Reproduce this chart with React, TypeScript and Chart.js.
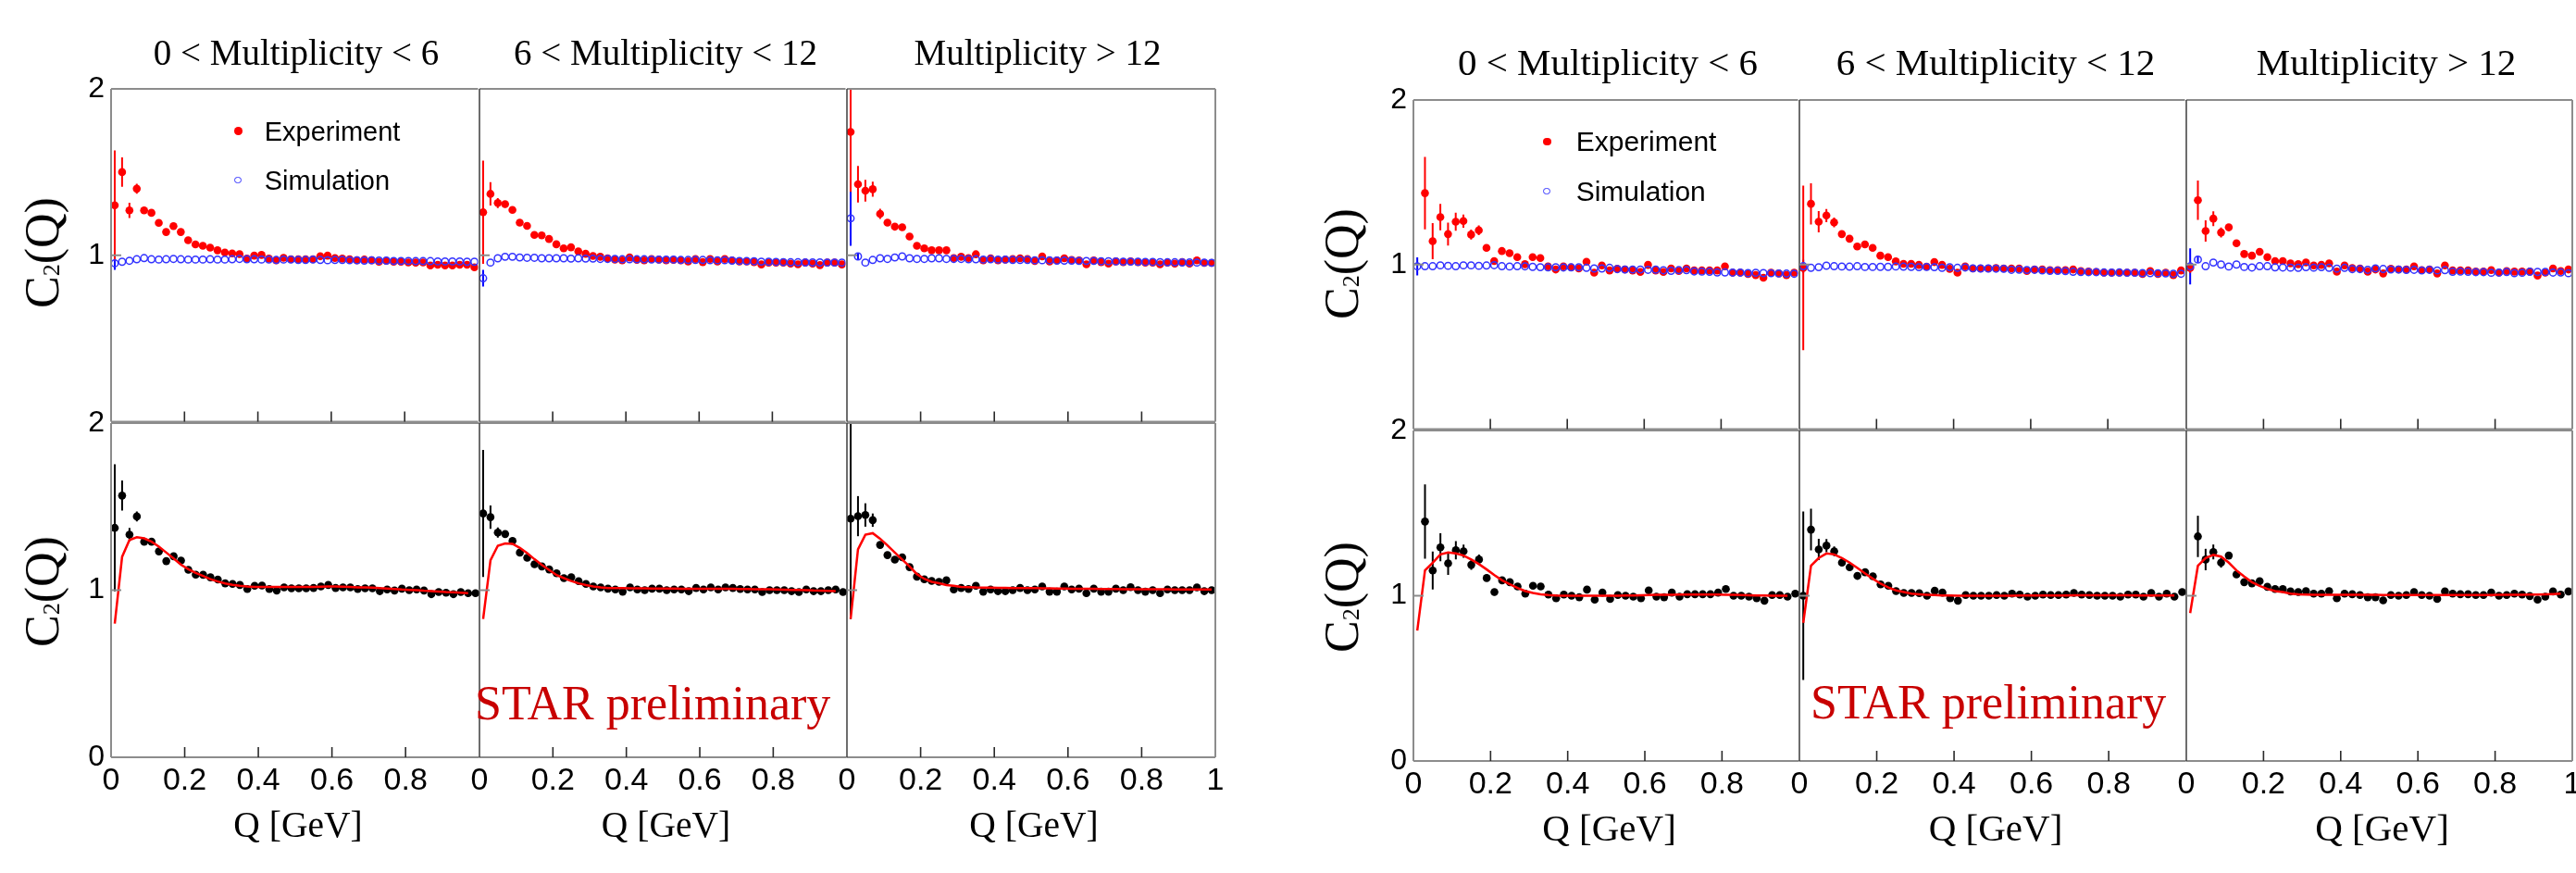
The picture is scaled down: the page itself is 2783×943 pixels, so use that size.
import React, { useEffect, useRef } from "react";
import { Chart, registerables } from "chart.js";

Chart.register(...registerables);

// ---------------- data ----------------
const Q_BINS = [
  0.01, 0.03, 0.05, 0.07, 0.09, 0.11, 0.13, 0.15, 0.17, 0.19,
  0.21, 0.23, 0.25, 0.27, 0.29, 0.31, 0.33, 0.35, 0.37, 0.39,
  0.41, 0.43, 0.45, 0.47, 0.49, 0.51, 0.53, 0.55, 0.57, 0.59,
  0.61, 0.63, 0.65, 0.67, 0.69, 0.71, 0.73, 0.75, 0.77, 0.79,
  0.81, 0.83, 0.85, 0.87, 0.89, 0.91, 0.93, 0.95, 0.97, 0.99,
];

const X_TICKS = [0, 0.2, 0.4, 0.6, 0.8, 1];
const X_TICK_LABELS = ["0", "0.2", "0.4", "0.6", "0.8", "1"];
const Y_TICKS = [0, 1, 2];
const Y_TICK_LABELS = ["0", "1", "2"];
const PANEL_TITLES = ["0 < Multiplicity < 6", "6 < Multiplicity < 12", "Multiplicity > 12"];
const LEGEND_LABELS = ["Experiment", "Simulation"];

// ----- left figure, upper row (Experiment / Simulation) -----
const L1_EXP = [1.30, 1.50, 1.27, 1.40, 1.27, 1.255, 1.195, 1.14, 1.175, 1.14, 1.09, 1.065, 1.057, 1.046, 1.03, 1.017, 1.011, 1.007, 0.98, 0.998, 1.002, 0.98, 0.97, 0.985, 0.976, 0.976, 0.976, 0.976, 0.994, 0.998, 0.983, 0.98, 0.976, 0.97, 0.974, 0.97, 0.961, 0.967, 0.961, 0.961, 0.957, 0.956, 0.957, 0.939, 0.943, 0.939, 0.939, 0.943, 0.943, 0.928];
const L1_EXP_ERR = [0.33, 0.088, 0.046, 0.03, 0.02, 0.018];
const L1_SIM = [0.952, 0.961, 0.967, 0.976, 0.983, 0.976, 0.974, 0.976, 0.978, 0.976, 0.974, 0.974, 0.974, 0.976, 0.974, 0.974, 0.976, 0.978, 0.976, 0.976, 0.974, 0.974, 0.972, 0.974, 0.974, 0.972, 0.972, 0.974, 0.972, 0.970, 0.972, 0.972, 0.970, 0.970, 0.968, 0.970, 0.968, 0.968, 0.966, 0.966, 0.966, 0.965, 0.965, 0.965, 0.963, 0.963, 0.963, 0.963, 0.961, 0.961];
const L1_SIM_ERR = [0.04];

const L2_EXP = [1.259, 1.369, 1.314, 1.307, 1.273, 1.196, 1.177, 1.122, 1.120, 1.098, 1.066, 1.042, 1.048, 1.024, 1.009, 0.996, 0.991, 0.982, 0.974, 0.969, 0.987, 0.972, 0.969, 0.978, 0.974, 0.969, 0.972, 0.969, 0.963, 0.978, 0.959, 0.978, 0.963, 0.978, 0.969, 0.963, 0.963, 0.959, 0.945, 0.956, 0.956, 0.956, 0.950, 0.946, 0.956, 0.950, 0.941, 0.956, 0.956, 0.945];
const L2_EXP_ERR = [0.31, 0.07, 0.03, 0.02];
const L2_SIM = [0.862, 0.956, 0.982, 0.991, 0.991, 0.987, 0.985, 0.985, 0.982, 0.982, 0.982, 0.982, 0.980, 0.982, 0.980, 0.980, 0.978, 0.978, 0.978, 0.976, 0.976, 0.976, 0.976, 0.974, 0.974, 0.974, 0.974, 0.972, 0.972, 0.972, 0.972, 0.970, 0.970, 0.970, 0.968, 0.966, 0.965, 0.964, 0.962, 0.961, 0.960, 0.959, 0.958, 0.958, 0.957, 0.957, 0.957, 0.956, 0.956, 0.956];
const L2_SIM_ERR = [0.05];

const L3_EXP = [1.741, 1.427, 1.388, 1.397, 1.249, 1.196, 1.172, 1.168, 1.113, 1.057, 1.042, 1.030, 1.030, 1.030, 0.983, 0.991, 0.983, 1.006, 0.969, 0.982, 0.969, 0.974, 0.978, 0.982, 0.978, 0.965, 0.993, 0.963, 0.969, 0.982, 0.972, 0.969, 0.946, 0.969, 0.959, 0.950, 0.963, 0.959, 0.963, 0.959, 0.956, 0.956, 0.946, 0.956, 0.950, 0.959, 0.950, 0.969, 0.954, 0.954];
const L3_EXP_ERR = [0.36, 0.11, 0.065, 0.045, 0.03, 0.02];
const L3_SIM = [1.222, 0.993, 0.956, 0.972, 0.982, 0.978, 0.987, 0.993, 0.982, 0.978, 0.978, 0.982, 0.982, 0.978, 0.978, 0.978, 0.976, 0.976, 0.974, 0.976, 0.974, 0.974, 0.972, 0.972, 0.972, 0.970, 0.970, 0.970, 0.968, 0.968, 0.968, 0.966, 0.966, 0.966, 0.964, 0.964, 0.963, 0.962, 0.962, 0.961, 0.960, 0.960, 0.959, 0.958, 0.958, 0.957, 0.957, 0.956, 0.956, 0.955];
const L3_SIM_ERR = [0.165, 0.02];

// ----- left figure, lower row (ratio + fit) -----
const L1_RATIO = [1.373, 1.566, 1.332, 1.441, 1.29, 1.29, 1.232, 1.174, 1.203, 1.177, 1.122, 1.093, 1.092, 1.077, 1.064, 1.041, 1.037, 1.031, 1.007, 1.026, 1.028, 1.007, 0.998, 1.017, 1.011, 1.011, 1.011, 1.013, 1.022, 1.031, 1.013, 1.017, 1.017, 1.007, 1.011, 1.011, 0.994, 1.004, 0.998, 1.009, 1.0, 1.004, 0.998, 0.976, 0.989, 0.985, 0.976, 0.989, 0.982, 0.982];
const L1_RATIO_ERR = [0.38, 0.09, 0.04, 0.03, 0.02];
const L1_FIT = [0.80, 1.20, 1.30, 1.317, 1.31, 1.29, 1.26, 1.225, 1.19, 1.152, 1.125, 1.103, 1.085, 1.066, 1.052, 1.04, 1.032, 1.026, 1.022, 1.02, 1.02, 1.02, 1.02, 1.02, 1.02, 1.02, 1.02, 1.02, 1.021, 1.022, 1.022, 1.021, 1.019, 1.017, 1.016, 1.015, 1.012, 1.01, 1.007, 1.004, 1.002, 1.0, 0.997, 0.995, 0.992, 0.989, 0.987, 0.985, 0.982];

const L2_RATIO = [1.459, 1.437, 1.345, 1.336, 1.295, 1.225, 1.194, 1.155, 1.142, 1.124, 1.101, 1.072, 1.077, 1.054, 1.037, 1.022, 1.017, 1.009, 1.004, 0.991, 1.017, 1.004, 1.0, 1.009, 1.009, 1.0, 1.004, 1.004, 0.994, 1.013, 1.004, 1.017, 1.004, 1.017, 1.013, 1.007, 1.004, 1.004, 0.989, 1.0, 1.0, 1.0, 0.994, 0.989, 1.004, 0.994, 0.994, 1.0, 1.004, 0.989];
const L2_RATIO_ERR = [0.38, 0.07, 0.03, 0.02];
const L2_FIT = [0.828, 1.179, 1.266, 1.28, 1.277, 1.253, 1.221, 1.185, 1.151, 1.12, 1.09, 1.072, 1.055, 1.041, 1.03, 1.022, 1.017, 1.013, 1.012, 1.012, 1.011, 1.011, 1.011, 1.010, 1.010, 1.010, 1.010, 1.009, 1.009, 1.009, 1.009, 1.008, 1.008, 1.008, 1.008, 1.007, 1.007, 1.006, 1.006, 1.005, 1.004, 1.003, 1.002, 1.001, 1.0, 0.998, 0.997, 0.996, 0.995];

const L3_RATIO = [1.428, 1.443, 1.45, 1.419, 1.271, 1.21, 1.183, 1.197, 1.138, 1.081, 1.065, 1.055, 1.05, 1.059, 1.004, 1.013, 1.007, 1.026, 0.991, 1.004, 0.994, 0.994, 1.0, 1.013, 1.0, 1.004, 1.022, 0.991, 0.991, 1.022, 1.004, 1.009, 0.982, 1.009, 0.991, 0.991, 1.009, 1.0, 1.018, 1.0, 0.991, 1.0, 0.982, 1.004, 1.0, 1.0, 1.0, 1.017, 0.994, 1.0];
const L3_RATIO_ERR = [0.6, 0.12, 0.07, 0.04, 0.02];
const L3_FIT = [0.828, 1.244, 1.332, 1.341, 1.308, 1.268, 1.225, 1.183, 1.142, 1.096, 1.068, 1.05, 1.041, 1.031, 1.026, 1.02, 1.018, 1.016, 1.015, 1.015, 1.014, 1.014, 1.013, 1.013, 1.012, 1.012, 1.011, 1.011, 1.010, 1.010, 1.009, 1.009, 1.008, 1.008, 1.007, 1.007, 1.007, 1.006, 1.006, 1.006, 1.005, 1.005, 1.005, 1.005, 1.004, 1.004, 1.004, 1.004, 1.004, 1.004];

// ----- right figure, upper row -----
const R1_EXP = [null, 1.434, 1.142, 1.288, 1.185, 1.260, 1.264, 1.182, 1.208, 1.101, 1.021, 1.082, 1.069, 1.045, 1.002, 1.045, 1.039, 0.989, 0.970, 0.989, 0.983, 0.976, 1.017, 0.951, 0.994, 0.964, 0.974, 0.970, 0.964, 0.955, 0.998, 0.964, 0.955, 0.976, 0.961, 0.976, 0.964, 0.964, 0.964, 0.964, 0.989, 0.951, 0.951, 0.942, 0.936, 0.920, 0.951, 0.946, 0.936, 0.951];
const R1_EXP_ERR = [0, 0.22, 0.11, 0.08, 0.07, 0.055, 0.04, 0.03, 0.03, 0.02, 0.02];
const R1_SIM = [0.989, 0.99, 0.99, 0.995, 0.992, 0.99, 0.995, 0.995, 0.992, 0.994, 0.996, 0.99, 0.988, 0.99, 0.989, 0.986, 0.984, 0.983, 0.984, 0.982, 0.983, 0.984, 0.98, 0.976, 0.976, 0.98, 0.972, 0.97, 0.97, 0.97, 0.968, 0.969, 0.965, 0.962, 0.966, 0.966, 0.958, 0.957, 0.956, 0.952, 0.952, 0.951, 0.951, 0.948, 0.95, 0.948, 0.947, 0.946, 0.945, 0.944];
const R1_SIM_ERR = [0.055];

const R2_EXP = [0.979, 1.369, 1.260, 1.298, 1.256, 1.185, 1.157, 1.110, 1.122, 1.101, 1.054, 1.045, 1.019, 1.004, 1.004, 0.998, 0.987, 1.015, 0.998, 0.974, 0.951, 0.989, 0.976, 0.976, 0.976, 0.979, 0.976, 0.976, 0.976, 0.961, 0.970, 0.970, 0.966, 0.966, 0.966, 0.970, 0.961, 0.957, 0.955, 0.951, 0.951, 0.951, 0.951, 0.951, 0.942, 0.961, 0.942, 0.951, 0.936, 0.964];
const R2_EXP_ERR = [0.5, 0.125, 0.065, 0.04, 0.03, 0.02];
const R2_SIM = [0.99, 0.98, 0.984, 0.993, 0.99, 0.988, 0.987, 0.99, 0.985, 0.985, 0.986, 0.986, 0.988, 0.987, 0.986, 0.984, 0.985, 0.984, 0.98, 0.984, 0.98, 0.982, 0.977, 0.976, 0.976, 0.975, 0.974, 0.968, 0.969, 0.967, 0.968, 0.964, 0.962, 0.962, 0.96, 0.956, 0.955, 0.954, 0.954, 0.952, 0.951, 0.952, 0.95, 0.95, 0.948, 0.948, 0.947, 0.946, 0.944, 0.944];
const R2_SIM_ERR = [0.04];

const R3_EXP = [0.979, 1.391, 1.204, 1.279, 1.195, 1.226, 1.129, 1.064, 1.054, 1.077, 1.045, 1.021, 1.021, 1.007, 1.002, 1.013, 0.994, 0.998, 1.007, 0.957, 0.994, 0.979, 0.976, 0.957, 0.970, 0.946, 0.974, 0.970, 0.970, 0.989, 0.966, 0.970, 0.946, 0.994, 0.964, 0.964, 0.964, 0.957, 0.957, 0.966, 0.951, 0.961, 0.957, 0.957, 0.957, 0.933, 0.951, 0.976, 0.961, 0.970];
const R3_EXP_ERR = [0.03, 0.12, 0.065, 0.045, 0.03, 0.02];
const R3_SIM = [0.989, 1.03, 0.99, 1.012, 1.0, 0.988, 1.0, 0.985, 0.982, 0.99, 0.99, 0.983, 0.982, 0.981, 0.98, 0.984, 0.981, 0.984, 0.98, 0.975, 0.98, 0.972, 0.972, 0.968, 0.977, 0.973, 0.97, 0.97, 0.967, 0.968, 0.964, 0.968, 0.964, 0.966, 0.956, 0.957, 0.956, 0.954, 0.954, 0.95, 0.951, 0.955, 0.948, 0.95, 0.956, 0.955, 0.955, 0.951, 0.952, 0.947];
const R3_SIM_ERR = [0.11, 0.02];

// ----- right figure, lower row -----
const R1_RATIO = [null, 1.449, 1.153, 1.293, 1.196, 1.275, 1.269, 1.187, 1.219, 1.107, 1.022, 1.093, 1.082, 1.056, 1.013, 1.060, 1.056, 1.007, 0.985, 1.007, 1.0, 0.991, 1.037, 0.976, 1.019, 0.981, 1.004, 1.0, 0.994, 0.985, 1.032, 0.994, 0.991, 1.019, 0.994, 1.009, 1.009, 1.009, 1.009, 1.019, 1.041, 1.0, 1.0, 0.994, 0.985, 0.970, 1.004, 1.004, 0.994, 1.013];
const R1_RATIO_ERR = [0, 0.225, 0.115, 0.085, 0.07, 0.055, 0.04, 0.03, 0.03, 0.02, 0.02];
const R1_FIT = [0.789, 1.153, 1.2, 1.25, 1.262, 1.256, 1.243, 1.219, 1.191, 1.159, 1.125, 1.093, 1.069, 1.047, 1.028, 1.017, 1.009, 1.004, 1.001, 1.0, 1.0, 1.0, 1.0, 1.0, 1.0, 1.0, 1.0, 1.001, 1.002, 1.003, 1.004, 1.005, 1.006, 1.006, 1.007, 1.007, 1.007, 1.007, 1.007, 1.007, 1.006, 1.005, 1.004, 1.003, 1.002, 1.001, 1.0, 1.0, 1.0];

const R2_RATIO = [1.0, 1.4, 1.28, 1.303, 1.269, 1.2, 1.172, 1.12, 1.142, 1.118, 1.069, 1.06, 1.028, 1.017, 1.017, 1.015, 1.0, 1.03, 1.019, 0.985, 0.97, 1.004, 1.0, 1.0, 1.0, 1.004, 1.0, 1.013, 1.007, 0.994, 1.0, 1.007, 1.004, 1.004, 1.007, 1.017, 1.007, 1.004, 1.0, 1.0, 1.0, 0.994, 1.007, 1.007, 0.994, 1.017, 0.994, 1.013, 0.994, 1.022];
const R2_RATIO_ERR = [0.51, 0.126, 0.065, 0.04, 0.03, 0.02];
const R2_FIT = [0.836, 1.181, 1.228, 1.256, 1.25, 1.228, 1.2, 1.168, 1.135, 1.103, 1.073, 1.05, 1.032, 1.022, 1.013, 1.009, 1.006, 1.004, 1.002, 1.001, 1.0, 1.0, 1.0, 1.0, 1.0, 1.0, 1.0, 1.0, 1.001, 1.001, 1.001, 1.002, 1.002, 1.002, 1.002, 1.003, 1.003, 1.003, 1.003, 1.003, 1.003, 1.003, 1.003, 1.002, 1.002, 1.002, 1.002, 1.001, 1.001];

const R3_RATIO = [null, 1.359, 1.219, 1.265, 1.2, 1.243, 1.129, 1.082, 1.075, 1.088, 1.054, 1.041, 1.041, 1.026, 1.022, 1.028, 1.013, 1.013, 1.028, 0.985, 1.013, 1.009, 1.004, 0.991, 0.991, 0.972, 1.004, 1.0, 1.004, 1.022, 1.004, 1.0, 0.981, 1.026, 1.013, 1.009, 1.009, 1.004, 1.004, 1.019, 1.0, 1.004, 1.013, 1.007, 0.998, 0.976, 0.994, 1.026, 1.007, 1.026];
const R3_RATIO_ERR = [0, 0.125, 0.065, 0.045, 0.03, 0.02];
const R3_FIT = [0.895, 1.181, 1.228, 1.247, 1.237, 1.2, 1.153, 1.116, 1.082, 1.06, 1.041, 1.028, 1.022, 1.013, 1.009, 1.007, 1.006, 1.006, 1.006, 1.006, 1.006, 1.005, 1.005, 1.005, 1.005, 1.004, 1.004, 1.004, 1.004, 1.004, 1.004, 1.004, 1.004, 1.004, 1.004, 1.004, 1.004, 1.004, 1.004, 1.004, 1.005, 1.005, 1.006, 1.006, 1.007, 1.007, 1.008, 1.01, 1.013];

// ---------------- styles ----------------
const RED = "#ff0000";
const BLUE_MARK = "#3333ff";
const BLUE_ERR = "#0000ff";
const BLACK = "#000000";
const STAR_RED = "#c80000";
const FRAME_GREY = "#8c8c8c";
const SEP_DARK = "#3c3c3c";
const TICK_COLOR = "#2a2a2a";
const SANS = "'Liberation Sans', Arial, Helvetica, sans-serif";
const SERIF = "'Liberation Serif', 'Times New Roman', Times, serif";

// layout of the two figures (page pixels)
const FIGS = [
  {
    colLefts: [120, 518, 915], colWidths: [398, 397, 398],
    rowTops: [96, 457], rowHeights: [361, 361],
    titleCx: [320, 719, 1121], titleBase: 70, titleSize: 39,
    ylabCx: 50, ylabCy: [273, 639], ylabSize: 52,
    xlabBase: 905, xlabSize: 39.5,
    starLeft: 513, starBase: 778, starSize: 52,
    legX: 257.6, legTextX: 285.7, legY: [141.7, 195], legSize: 29,
    panels: [
      { row: 0, col: 0, exp: L1_EXP, expErr: L1_EXP_ERR, sim: L1_SIM, simErr: L1_SIM_ERR },
      { row: 0, col: 1, exp: L2_EXP, expErr: L2_EXP_ERR, sim: L2_SIM, simErr: L2_SIM_ERR },
      { row: 0, col: 2, exp: L3_EXP, expErr: L3_EXP_ERR, sim: L3_SIM, simErr: L3_SIM_ERR },
      { row: 1, col: 0, ratio: L1_RATIO, ratioErr: L1_RATIO_ERR, fit: L1_FIT },
      { row: 1, col: 1, ratio: L2_RATIO, ratioErr: L2_RATIO_ERR, fit: L2_FIT },
      { row: 1, col: 2, ratio: L3_RATIO, ratioErr: L3_RATIO_ERR, fit: L3_FIT },
    ],
  },
  {
    colLefts: [1527, 1944, 2362], colWidths: [417, 418, 417],
    rowTops: [108, 465], rowHeights: [357, 357],
    titleCx: [1737, 2156, 2578], titleBase: 81.7, titleSize: 41,
    ylabCx: 1454, ylabCy: [285, 645], ylabSize: 52,
    xlabBase: 908, xlabSize: 41,
    starLeft: 1956, starBase: 777, starSize: 52,
    legX: 1671.4, legTextX: 1702.7, legY: [153, 206.7], legSize: 30,
    panels: [
      { row: 0, col: 0, exp: R1_EXP, expErr: R1_EXP_ERR, sim: R1_SIM, simErr: R1_SIM_ERR },
      { row: 0, col: 1, exp: R2_EXP, expErr: R2_EXP_ERR, sim: R2_SIM, simErr: R2_SIM_ERR },
      { row: 0, col: 2, exp: R3_EXP, expErr: R3_EXP_ERR, sim: R3_SIM, simErr: R3_SIM_ERR },
      { row: 1, col: 0, ratio: R1_RATIO, ratioErr: R1_RATIO_ERR, fit: R1_FIT },
      { row: 1, col: 1, ratio: R2_RATIO, ratioErr: R2_RATIO_ERR, fit: R2_FIT },
      { row: 1, col: 2, ratio: R3_RATIO, ratioErr: R3_RATIO_ERR, fit: R3_FIT },
    ],
  },
];

const toPts = (vals: (number | null)[]) => vals.map((v, i) => ({ x: Q_BINS[i], y: v }));

function buildDatasets(p: any) {
  if (p.row === 0) {
    return [
      {
        label: "Simulation", data: toPts(p.sim), showLine: false, order: 0,
        pointStyle: "circle", pointRadius: 3.7, pointBorderWidth: 1.5,
        pointBorderColor: BLUE_MARK, pointBackgroundColor: "rgba(0,0,0,0)",
        errors: p.simErr, errorColor: BLUE_ERR,
      },
      {
        label: "Experiment", data: toPts(p.exp), showLine: false, order: 1,
        pointStyle: "circle", pointRadius: 4.3, pointBorderWidth: 0,
        pointBorderColor: RED, pointBackgroundColor: RED,
        errors: p.expErr, errorColor: RED,
      },
    ];
  }
  return [
    {
      label: "Fit", data: toPts(p.fit), showLine: true, order: 0,
      borderColor: RED, borderWidth: 2.5, pointRadius: 0, tension: 0, fill: false,
    },
    {
      label: "Ratio", data: toPts(p.ratio), showLine: false, order: 1,
      pointStyle: "circle", pointRadius: 4.3, pointBorderWidth: 0,
      pointBorderColor: BLACK, pointBackgroundColor: BLACK,
      errors: p.ratioErr, errorColor: BLACK,
    },
  ];
}

const errorBarPlugin = {
  id: "errorBars",
  beforeDatasetsDraw(chart: any) {
    const { ctx, chartArea: a, scales } = chart;
    ctx.save();
    ctx.beginPath();
    ctx.rect(a.left, a.top, a.right - a.left, a.bottom - a.top);
    ctx.clip();
    chart.data.datasets.forEach((ds: any) => {
      if (!ds.errors) return;
      ctx.strokeStyle = ds.errorColor;
      ctx.lineWidth = 2;
      ds.errors.forEach((e: number, i: number) => {
        const pt = ds.data[i];
        if (!pt || pt.y == null || !e) return;
        const x = scales.x.getPixelForValue(pt.x);
        ctx.beginPath();
        ctx.moveTo(x, scales.y.getPixelForValue(pt.y - e));
        ctx.lineTo(x, scales.y.getPixelForValue(pt.y + e));
        ctx.stroke();
      });
    });
    ctx.restore();
  },
};

function makeFramePlugin(row: number, col: number) {
  return {
    id: "frame",
    afterDraw(chart: any) {
      const { ctx, chartArea: a, scales } = chart;
      const seg = (x1: number, y1: number, x2: number, y2: number, c: string, w: number) => {
        ctx.beginPath();
        ctx.strokeStyle = c;
        ctx.lineWidth = w;
        ctx.moveTo(x1, y1);
        ctx.lineTo(x2, y2);
        ctx.stroke();
      };
      ctx.save();
      seg(a.left, a.top, a.right, a.top, FRAME_GREY, 2);
      seg(a.left, a.bottom, a.right, a.bottom, FRAME_GREY, 2);
      if (col === 0) seg(a.left, a.top, a.left, a.bottom, FRAME_GREY, 2);
      else seg(a.left, a.top, a.left, a.bottom, SEP_DARK, 1.5);
      if (col === 2) seg(a.right, a.top, a.right, a.bottom, FRAME_GREY, 2);
      X_TICKS.forEach((v) => {
        if (v <= 0 || v >= 1) return;
        const x = scales.x.getPixelForValue(v);
        seg(x, a.bottom, x, a.bottom - 11, TICK_COLOR, 1.6);
      });
      const y1 = scales.y.getPixelForValue(1);
      seg(a.left, y1, a.left + 11, y1, FRAME_GREY, 2);
      ctx.restore();
    },
  };
}

function Panel({ p, left, top, width, height }: any) {
  const ref = useRef<HTMLCanvasElement | null>(null);
  const mL = p.col === 0 ? 70 : 22;
  const mR = p.col === 2 ? 26 : 4;
  const mT = 22;
  const mB = p.row === 1 ? 56 : 4;
  const W = mL + width + mR;
  const H = mT + height + mB;

  useEffect(() => {
    if (!ref.current) return;
    const chart = new Chart(ref.current, {
      type: "line",
      data: { datasets: buildDatasets(p) as any },
      options: {
        animation: false,
        responsive: false,
        maintainAspectRatio: false,
        events: [],
        layout: { padding: { left: 0, right: mR, top: mT, bottom: 0 } },
        plugins: { legend: { display: false }, tooltip: { enabled: false }, title: { display: false } },
        scales: {
          x: {
            type: "linear", min: 0, max: 1,
            grid: { display: false, drawTicks: false },
            border: { display: false },
            afterBuildTicks: (s: any) => { s.ticks = X_TICKS.map((v) => ({ value: v })); },
            ticks: {
              display: p.row === 1,
              autoSkip: false, maxRotation: 0, minRotation: 0,
              padding: 5,
              color: "#000",
              font: { family: SANS, size: 34 },
              callback: (v: any) => {
                const i = X_TICKS.indexOf(Number(v));
                if (i < 0) return "";
                if (p.col < 2 && i === X_TICKS.length - 1) return "";
                return X_TICK_LABELS[i];
              },
            },
            afterFit: (s: any) => {
              s.height = mB;
              s.paddingLeft = 0; s.paddingRight = 0; s.paddingTop = 0; s.paddingBottom = 0;
            },
          },
          y: {
            type: "linear", min: 0, max: 2,
            grid: { display: false, drawTicks: false },
            border: { display: false },
            afterBuildTicks: (s: any) => { s.ticks = Y_TICKS.map((v) => ({ value: v })); },
            ticks: {
              display: p.col === 0,
              autoSkip: false,
              padding: 7,
              color: "#000",
              font: { family: SANS, size: 32 },
              callback: (v: any) => {
                const i = Y_TICKS.indexOf(Number(v));
                if (i < 0) return "";
                if (p.row === 0 && i === 0) return "";
                return Y_TICK_LABELS[i];
              },
            },
            afterFit: (s: any) => {
              s.width = mL;
              s.paddingLeft = 0; s.paddingRight = 0; s.paddingTop = 0; s.paddingBottom = 0;
            },
          },
        },
      } as any,
      plugins: [errorBarPlugin, makeFramePlugin(p.row, p.col)] as any,
    });
    return () => chart.destroy();
  }, []);

  return (
    <canvas
      ref={ref}
      width={W}
      height={H}
      style={{ position: "absolute", left: left - mL, top: top - mT, width: W, height: H }}
    />
  );
}

const SERIF_BASE = 0.8375; // baseline offset in em for line-height 1

function Figure({ f }: any) {
  const cx = (c: number) => f.colLefts[c] + f.colWidths[c] / 2;
  return (
    <>
      {f.panels.map((p: any, i: number) => (
        <Panel
          key={i}
          p={p}
          left={f.colLefts[p.col]}
          top={f.rowTops[p.row]}
          width={f.colWidths[p.col]}
          height={f.rowHeights[p.row]}
        />
      ))}
      {PANEL_TITLES.map((t, c) => (
        <div
          key={"t" + c}
          style={{
            position: "absolute", left: f.titleCx[c], top: f.titleBase - SERIF_BASE * f.titleSize,
            transform: "translateX(-50%)", whiteSpace: "nowrap",
            fontFamily: SERIF, fontSize: f.titleSize, lineHeight: 1, color: "#000",
          }}
        >
          {t}
        </div>
      ))}
      {[0, 1, 2].map((c) => (
        <div
          key={"x" + c}
          style={{
            position: "absolute", left: cx(c) + 3, top: f.xlabBase - SERIF_BASE * f.xlabSize,
            transform: "translateX(-50%)", whiteSpace: "nowrap",
            fontFamily: SERIF, fontSize: f.xlabSize, lineHeight: 1, color: "#000",
          }}
        >
          Q [GeV]
        </div>
      ))}
      {f.ylabCy.map((cy: number, r: number) => (
        <div
          key={"y" + r}
          style={{
            position: "absolute", left: f.ylabCx - 4, top: cy,
            transform: "translate(-50%, -50%) rotate(-90deg)", whiteSpace: "nowrap",
            fontFamily: SERIF, fontSize: f.ylabSize, lineHeight: 1, color: "#000",
          }}
        >
          C<span style={{ fontSize: "0.5em", position: "relative", top: "0.05em" }}>2</span>(Q)
        </div>
      ))}
      <div
        style={{
          position: "absolute", left: f.starLeft, top: f.starBase - SERIF_BASE * f.starSize,
          whiteSpace: "nowrap", fontFamily: SERIF, fontSize: f.starSize, lineHeight: 1, color: STAR_RED,
        }}
      >
        STAR preliminary
      </div>
      {LEGEND_LABELS.map((lab, i) => (
        <React.Fragment key={"l" + i}>
          <div
            style={{
              position: "absolute",
              left: f.legX - (i === 0 ? 4.3 : 4.2), top: f.legY[i] - (i === 0 ? 4.3 : 4.2),
              width: i === 0 ? 8.6 : 5.4, height: i === 0 ? 8.6 : 5.4, borderRadius: "50%",
              background: i === 0 ? RED : "transparent",
              border: i === 0 ? "none" : `1.5px solid ${BLUE_MARK}`,
            }}
          />
          <div
            style={{
              position: "absolute", left: f.legTextX, top: f.legY[i] - 0.4885 * f.legSize,
              whiteSpace: "nowrap", fontFamily: SANS, fontSize: f.legSize, lineHeight: 1, color: "#000",
            }}
          >
            {lab}
          </div>
        </React.Fragment>
      ))}
    </>
  );
}

export default function App() {
  return (
    <div
      style={{
        position: "absolute", left: 0, top: 0, width: 2783, height: 943,
        background: "#ffffff", overflow: "hidden",
      }}
    >
      {FIGS.map((f, i) => (
        <Figure key={i} f={f} />
      ))}
    </div>
  );
}
